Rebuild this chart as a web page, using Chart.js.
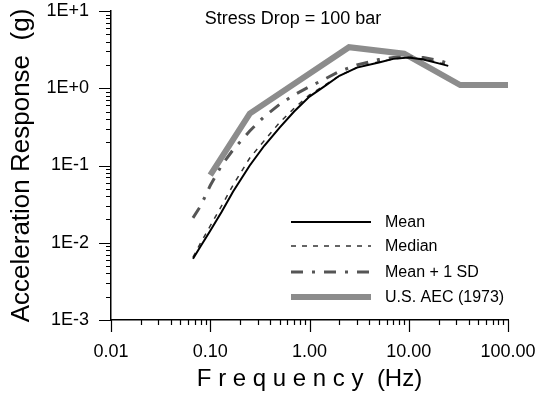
<!DOCTYPE html>
<html>
<head>
<meta charset="utf-8">
<script src="https://cdn.jsdelivr.net/npm/chart.js@4/dist/chart.umd.min.js"></script>
<style>
    body { margin: 0; background: #fff; }
</style>
</head>
<body>
<canvas id="spectrumChart" width="546" height="397"></canvas>
<script>
// Frequencies (Hz) shared by the three computed spectra
const freq = [0.067, 0.08, 0.1, 0.13, 0.17, 0.25, 0.35, 0.5, 0.7, 1.0, 1.4, 2.0, 3.0, 5.0, 7.0, 10, 14, 20, 25];
const meanVals = [0.0062, 0.009, 0.0143, 0.025, 0.046, 0.10, 0.18, 0.31, 0.50, 0.78, 1.05, 1.45, 1.85, 2.15, 2.4, 2.5, 2.35, 2.1, 1.95];
const medianVals = [0.0065, 0.010, 0.0165, 0.030, 0.056, 0.125, 0.21, 0.36, 0.55, 0.82, 1.08, 1.45, 1.85, 2.2, 2.4, 2.5, 2.4, 2.15, 2.0];
const sdVals = [0.021, 0.030, 0.055, 0.10, 0.16, 0.28, 0.43, 0.62, 0.82, 1.05, 1.3, 1.65, 2.0, 2.35, 2.5, 2.55, 2.5, 2.3, 2.1];

// U.S. AEC (1973) design spectrum control points
const aecFreq = [0.1, 0.25, 2.5, 9, 33, 100];
const aecVals = [0.075, 0.47, 3.4, 2.8, 1.1, 1.1];

const seriesNames = ['Mean', 'Median', 'Mean + 1 SD', 'U.S. AEC (1973)'];

// Axis decades and their labels
const xDecades = [0.01, 0.1, 1, 10, 100];
const xTickLabels = ['0.01', '0.10', '1.00', '10.00', '100.00'];
const yDecades = [0.001, 0.01, 0.1, 1, 10];
const yTickLabels = ['1E-3', '1E-2', '1E-1', '1E+0', '1E+1'];

const chartTitle = 'Stress Drop = 100 bar';
const xTitle = 'F r e q u e n c y  (Hz)';
const yTitle = 'Acceleration Response  (g)';

const FONT = "'Liberation Sans', Arial, sans-serif";

function toPoints(xs, ys) {
    return xs.map((x, i) => ({ x: x, y: ys[i] }));
}

// keep the plot box where the reference has it
function noScalePadding(scale) {
    scale.paddingTop = 0;
    scale.paddingBottom = 0;
    scale.paddingLeft = 0;
    scale.paddingRight = 0;
}

// Minor/major log tick marks, drawn outward from the axes
const logTicksPlugin = {
    id: 'logTicks',
    afterDraw(chart) {
        const { ctx, chartArea } = chart;
        const xs = chart.scales.x;
        const ys = chart.scales.y;
        ctx.save();
        ctx.strokeStyle = '#000';
        ctx.lineWidth = 1.2;
        ctx.beginPath();
        xDecades.forEach(d => {
            for (let k = 1; k <= 9; k++) {
                const v = d * k;
                if (v > xDecades[xDecades.length - 1] * 1.0001) break;
                const px = Math.round(xs.getPixelForValue(v)) + 0.5;
                const len = k === 1 ? 12 : 5;
                ctx.moveTo(px, chartArea.bottom);
                ctx.lineTo(px, chartArea.bottom + len);
            }
        });
        yDecades.forEach(d => {
            for (let k = 1; k <= 9; k++) {
                const v = d * k;
                if (v > yDecades[yDecades.length - 1] * 1.0001) break;
                const py = Math.round(ys.getPixelForValue(v)) + 0.5;
                const len = k === 1 ? 12 : 5;
                ctx.moveTo(chartArea.left, py);
                ctx.lineTo(chartArea.left - len, py);
            }
        });
        ctx.stroke();
        ctx.restore();
    }
};

// Title inside the plot and the legend box at lower right
const annotationPlugin = {
    id: 'annotations',
    afterDraw(chart) {
        const { ctx } = chart;
        ctx.save();
        ctx.fillStyle = '#000';
        ctx.font = '18px ' + FONT;
        ctx.textAlign = 'center';
        ctx.textBaseline = 'alphabetic';
        ctx.fillText(chartTitle, 293, 24);

        const rows = [222, 246, 272, 297];
        ctx.font = '16px ' + FONT;
        ctx.textAlign = 'left';
        ctx.textBaseline = 'middle';
        chart.data.datasets.forEach((ds, i) => {
            const y = rows[i];
            ctx.save();
            ctx.strokeStyle = ds.borderColor;
            ctx.lineWidth = ds.borderWidth;
            ctx.setLineDash(ds.borderDash || []);
            ctx.beginPath();
            ctx.moveTo(291, y);
            ctx.lineTo(371, y);
            ctx.stroke();
            ctx.restore();
            ctx.fillText(ds.label, 385, y + 1);
        });
        ctx.restore();
    }
};

const ctx = document.getElementById('spectrumChart');
const spectrumChart = new Chart(ctx, {
    type: 'line',
    data: {
        datasets: [{
            label: seriesNames[0],
            data: toPoints(freq, meanVals),
            borderColor: '#000',
            borderWidth: 2,
            pointRadius: 0,
            tension: 0
        }, {
            label: seriesNames[1],
            data: toPoints(freq, medianVals),
            borderColor: '#333',
            borderWidth: 1.5,
            borderDash: [5, 6],
            pointRadius: 0,
            tension: 0
        }, {
            label: seriesNames[2],
            data: toPoints(freq, sdVals),
            borderColor: '#555',
            borderWidth: 3,
            borderDash: [12, 9, 3, 9],
            pointRadius: 0,
            tension: 0
        }, {
            label: seriesNames[3],
            data: toPoints(aecFreq, aecVals),
            borderColor: '#8c8c8c',
            borderWidth: 6,
            pointRadius: 0,
            tension: 0
        }]
    },
    options: {
        responsive: false,
        animation: false,
        layout: {
            padding: { top: 11, right: 38, left: 0, bottom: 0 }
        },
        plugins: {
            legend: { display: false },
            tooltip: { enabled: false }
        },
        scales: {
            x: {
                type: 'logarithmic',
                min: 0.01,
                max: 100,
                afterBuildTicks: scale => {
                    scale.ticks = xDecades.map(v => ({ value: v }));
                },
                afterFit: scale => {
                    scale.height = 77;
                    noScalePadding(scale);
                },
                grid: { display: false, drawTicks: false },
                border: { display: true, color: '#000', width: 1.5 },
                ticks: {
                    padding: 21,
                    color: '#000',
                    maxRotation: 0,
                    autoSkip: false,
                    font: { size: 18, family: FONT },
                    callback: (value, index) => xTickLabels[index]
                },
                title: {
                    display: true,
                    text: xTitle,
                    color: '#000',
                    padding: { top: 0, bottom: 3 },
                    font: { size: 24, family: FONT }
                }
            },
            y: {
                type: 'logarithmic',
                min: 0.001,
                max: 10,
                afterBuildTicks: scale => {
                    scale.ticks = yDecades.map(v => ({ value: v }));
                },
                afterFit: scale => {
                    scale.width = 111;
                    noScalePadding(scale);
                },
                grid: { display: false, drawTicks: false },
                border: { display: true, color: '#000', width: 1.5 },
                ticks: {
                    padding: 22,
                    color: '#000',
                    autoSkip: false,
                    font: { size: 18, family: FONT },
                    callback: (value, index) => yTickLabels[index]
                },
                title: {
                    display: true,
                    text: yTitle,
                    color: '#000',
                    padding: { top: 6, bottom: 0 },
                    font: { size: 26, family: FONT }
                }
            }
        }
    },
    plugins: [logTicksPlugin, annotationPlugin]
});
</script>
</body>
</html>
